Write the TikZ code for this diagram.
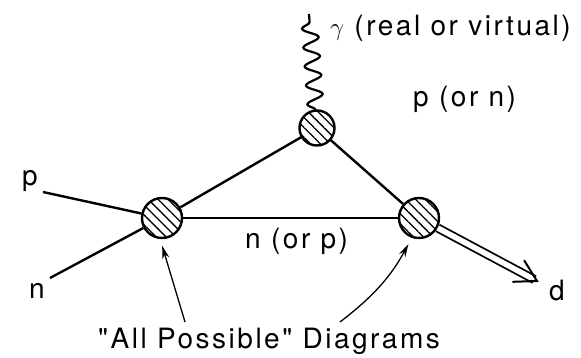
\documentclass[tikz,border=0pt]{standalone}
\usepackage{fontspec}
\setmainfont[LetterSpace=9,Ligatures=TeXOff]{TeX Gyre Heros}
\usetikzlibrary{patterns.meta,decorations.pathmorphing,calc,arrows.meta}
\begin{document}
\begin{tikzpicture}[x=1pt,y=-1pt,
  blob/.style={circle,draw,line width=2.4pt,inner sep=0pt,
    preaction={fill=white},
    pattern={Lines[angle=-45,distance=7pt,line width=1.3pt]}},
  prop/.style={line width=2.4pt},
  lbl/.style={font=\fontsize{28}{30}\selectfont,inner sep=0pt},
  note/.style={line width=1.3pt,-{Stealth[length=13pt,width=7pt]}}]
\useasboundingbox (0,0) rectangle (581,358);
% blobs
\node[blob,minimum size=35pt] (tb) at (317,128) {};
\node[blob,minimum size=40pt] (lb) at (162,218) {};
\node[blob,minimum size=40pt] (rb) at (419,218) {};
% labels
\node[lbl,anchor=west] (gam) at (330,28) {$\gamma$ (real or virtual)};
\node[lbl,anchor=west] (pn) at (413,99) {p (or n)};
\node[lbl,anchor=west] (np) at (245,241) {n (or p)};
\node[lbl] (pl) at (30,181) {p};
\node[lbl] (nl) at (37,291) {n};
\node[lbl] (dl) at (557,291) {d};
\node[lbl] (all) at (269,341) {"All Possible" Diagrams};
% free ends
\coordinate (gtop) at (309,14);
\coordinate (pend) at (43,192);
\coordinate (nend) at (50,278);
\coordinate (dtip) at (537,281);
\coordinate (a1) at (185,322);
\coordinate (a2) at (340,322);
% triangle
\draw[prop] (tb) -- (lb);
\draw[prop] (tb) -- (rb);
\draw[prop] (lb) -- (rb);
% incoming nucleons
\draw[prop] (pend) -- (lb);
\draw[prop] (nend) -- (lb);
% photon
\draw[line width=2.2pt,decorate,decoration={snake,amplitude=8pt,segment length=19pt}] (tb) -- (gtop);
% deuteron
\draw[line width=1.8pt,double,double distance=5.5pt,shorten >=3pt] (rb) -- (dtip);
\draw[line width=2pt,line cap=round,line join=miter]
  ($(dtip)!24pt!30:(rb)$) -- (dtip) -- ($(dtip)!24pt!-30:(rb)$);
% annotations
\draw[note,shorten >=7pt] (a1) -- (lb.265);
\draw[note,shorten >=7pt] (a2) to[bend right=12] (rb.250);
\end{tikzpicture}
\end{document}
